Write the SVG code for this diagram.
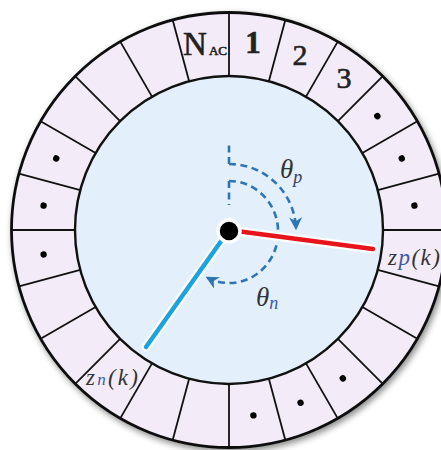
<svg xmlns="http://www.w3.org/2000/svg" xmlns:xlink="http://www.w3.org/1999/xlink" width="441" height="450" viewBox="0 0 441 450">
<defs>
<style>
.ring{fill:#f3ecf8;stroke:#111;stroke-width:2.8}
.inner{fill:#e3f0fb;stroke:#111;stroke-width:2.4}
.div{stroke:#111;stroke-width:1.8}
.dot{fill:#000}
.num{font-family:"Liberation Serif",serif;fill:#222;text-anchor:middle;stroke:#222;stroke-width:0.6}
.math{font-family:"Liberation Serif",serif;font-style:italic;fill:#333}
.sub{fill:#3b5ba5}
.dash{fill:none;stroke:#2e75b6;stroke-width:2.6;stroke-dasharray:7 4.5}
</style>
<filter id="sh" x="-10%" y="-10%" width="120%" height="120%">
<feDropShadow dx="2" dy="3" stdDeviation="3" flood-color="#000" flood-opacity="0.45"/>
</filter>
<marker id="ah" viewBox="0 0 10 10" refX="9" refY="5" markerWidth="13" markerHeight="13" markerUnits="userSpaceOnUse" orient="auto">
<path d="M0,0 L10,5 L0,10 L3,5 z" fill="#2e75b6"/>
</marker>
<line id="dv" class="div" x1="229" y1="76" x2="229" y2="12.5"/>
<circle id="dt" class="dot" cx="229" cy="43" r="3.2"/>
</defs>
<g id="ring">
<circle class="ring" cx="229" cy="230" r="217.5" filter="url(#sh)"/>
<circle class="inner" cx="229" cy="230" r="154"/>
<use xlink:href="#dv" transform="rotate(0 229 230)"/>
<use xlink:href="#dv" transform="rotate(15 229 230)"/>
<use xlink:href="#dv" transform="rotate(30 229 230)"/>
<use xlink:href="#dv" transform="rotate(45 229 230)"/>
<use xlink:href="#dv" transform="rotate(60 229 230)"/>
<use xlink:href="#dv" transform="rotate(75 229 230)"/>
<use xlink:href="#dv" transform="rotate(90 229 230)"/>
<use xlink:href="#dv" transform="rotate(105 229 230)"/>
<use xlink:href="#dv" transform="rotate(120 229 230)"/>
<use xlink:href="#dv" transform="rotate(135 229 230)"/>
<use xlink:href="#dv" transform="rotate(150 229 230)"/>
<use xlink:href="#dv" transform="rotate(165 229 230)"/>
<use xlink:href="#dv" transform="rotate(180 229 230)"/>
<use xlink:href="#dv" transform="rotate(195 229 230)"/>
<use xlink:href="#dv" transform="rotate(210 229 230)"/>
<use xlink:href="#dv" transform="rotate(225 229 230)"/>
<use xlink:href="#dv" transform="rotate(240 229 230)"/>
<use xlink:href="#dv" transform="rotate(255 229 230)"/>
<use xlink:href="#dv" transform="rotate(270 229 230)"/>
<use xlink:href="#dv" transform="rotate(285 229 230)"/>
<use xlink:href="#dv" transform="rotate(300 229 230)"/>
<use xlink:href="#dv" transform="rotate(315 229 230)"/>
<use xlink:href="#dv" transform="rotate(330 229 230)"/>
<use xlink:href="#dv" transform="rotate(345 229 230)"/>
</g>
<g id="dots">
<use xlink:href="#dt" transform="rotate(52.5 229 230)"/>
<use xlink:href="#dt" transform="rotate(67.5 229 230)"/>
<use xlink:href="#dt" transform="rotate(82.5 229 230)"/>
<use xlink:href="#dt" transform="rotate(142.5 229 230)"/>
<use xlink:href="#dt" transform="rotate(157.5 229 230)"/>
<use xlink:href="#dt" transform="rotate(172.5 229 230)"/>
<use xlink:href="#dt" transform="rotate(262.5 229 230)"/>
<use xlink:href="#dt" transform="rotate(277.5 229 230)"/>
<use xlink:href="#dt" transform="rotate(292.5 229 230)"/>
</g>
<g id="labels">
<text class="num" x="195" y="55" font-size="33">N</text>
<text class="num" x="218" y="55" font-size="13" fill="#2a3550" stroke="none">AC</text>
<text class="num" x="253" y="53" font-size="31" font-weight="bold">1</text>
<text class="num" x="300" y="65" font-size="30">2</text>
<text class="num" x="344" y="88" font-size="30">3</text>
<text class="math" x="388" y="265" font-size="23" textLength="52" lengthAdjust="spacing">z<tspan class="sub">p</tspan>(k)</text>
<text class="math" x="86" y="385" font-size="23" textLength="52" lengthAdjust="spacing">z<tspan class="sub" font-size="17">n</tspan>(k)</text>
</g>
<g id="connectors">
<line x1="229" y1="164" x2="229" y2="142" class="dash"/>
<line x1="229" y1="181" x2="229" y2="205" class="dash"/>
<path class="dash" d="M229,164 A67,67 0 0 1 296,229" marker-end="url(#ah)"/>
<path class="dash" d="M229,181 A49,51 0 1 1 206.8,277.4" marker-end="url(#ah)"/>
<line x1="229" y1="230" x2="373" y2="249" stroke="#fff" stroke-width="9" stroke-linecap="round"/>
<line x1="229" y1="230" x2="373" y2="249" stroke="#e8141b" stroke-width="4.5" stroke-linecap="round"/>
<line x1="229" y1="230" x2="146" y2="347" stroke="#fff" stroke-width="9" stroke-linecap="round"/>
<line x1="229" y1="230" x2="146" y2="347" stroke="#1aa3de" stroke-width="4.5" stroke-linecap="round"/>
</g>
<g id="hub">
<circle cx="229" cy="231" r="11" fill="#000" stroke="#fff" stroke-width="3.5"/>
</g>
<g id="theta">
<text class="math" x="280" y="178" font-size="27">θ<tspan font-size="18" dy="5" fill="#3b3f5a">p</tspan></text>
<text class="math" x="256" y="306" font-size="27">θ<tspan font-size="18" dy="3" fill="#3b5ba5">n</tspan></text>
</g>
</svg>
